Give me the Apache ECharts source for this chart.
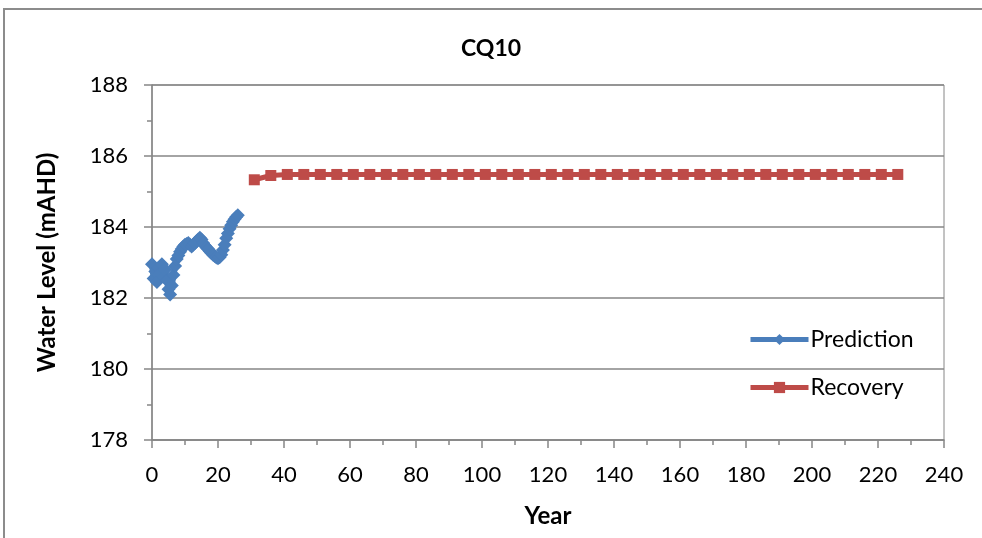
<!DOCTYPE html>
<html>
<head>
<meta charset="utf-8">
<script src="https://cdn.jsdelivr.net/npm/echarts@6/dist/echarts.min.js"></script>
<style>
html,body{margin:0;padding:0;background:#fff;}
#chart{width:982px;height:538px;}
</style>
</head>
<body>
<div id="chart"></div>
<script>
var title = "CQ10";
var xAxisName = "Year";
var yAxisName = "Water Level (mAHD)";
var predYears = [0,0.5,1,1.5,2,2.5,3,3.5,4,4.5,5,5.5,6,6.5,7,7.5,8,8.5,9,9.5,10,10.5,11,11.5,12,12.5,13,13.5,14,14.5,15,15.5,16,16.5,17,17.5,18,18.5,19,19.5,20,20.5,21,21.5,22,22.5,23,23.5,24,24.5,25,25.5,26];
var predLevels = [182.95,182.55,182.75,182.45,182.85,182.7,182.95,182.6,182.8,182.5,182.25,182.1,182.35,182.65,182.9,183.1,183.2,183.3,183.38,183.45,183.5,183.52,183.55,183.5,183.45,183.5,183.55,183.6,183.65,183.7,183.65,183.55,183.48,183.42,183.38,183.32,183.27,183.22,183.18,183.14,183.12,183.15,183.22,183.35,183.5,183.68,183.82,183.95,184.05,184.15,184.22,184.28,184.33];
var recYears = [31,36,41,46,51,56,61,66,71,76,81,86,91,96,101,106,111,116,121,126,131,136,141,146,151,156,161,166,171,176,181,186,191,196,201,206,211,216,221,226];
var recLevels = [185.33,185.45,185.48,185.48,185.48,185.48,185.48,185.48,185.48,185.48,185.48,185.48,185.48,185.48,185.48,185.48,185.48,185.48,185.48,185.48,185.48,185.48,185.48,185.48,185.48,185.48,185.48,185.48,185.48,185.48,185.48,185.48,185.48,185.48,185.48,185.48,185.48,185.48,185.48,185.48];

function zip(a,b){var r=[];for(var i=0;i<a.length;i++){r.push([a[i],b[i]]);}return r;}

var FONT = "Lato";
var chart = echarts.init(document.getElementById('chart'), null, {renderer:'canvas'});
chart.setOption({
  animation:false,
  backgroundColor:'#fff',
  textStyle:{fontFamily:FONT},
  title:{text:title,left:'center',top:32,textStyle:{fontFamily:FONT,fontSize:23,fontWeight:'bold',color:'#000'}},
  graphic:[{type:'rect',shape:{x:4,y:9,width:1100,height:700},style:{fill:'none',stroke:'#8c8c8c',lineWidth:2},silent:true,z:-1}],
  grid:{left:152,right:38,top:85,bottom:98,show:true,borderColor:'#868686',borderWidth:1,backgroundColor:'transparent'},
  legend:{
    orient:'vertical',left:743,top:323,itemGap:25,itemWidth:58,itemHeight:14,
    lineStyle:{width:5},
    textStyle:{fontFamily:FONT,fontSize:23,color:'#000',padding:[0,0,0,-3]},
    data:['Prediction','Recovery']
  },
  xAxis:{
    type:'value',min:0,max:240,interval:20,
    name:xAxisName,nameLocation:'middle',nameGap:64,
    nameTextStyle:{fontFamily:FONT,fontSize:24,fontWeight:'bold',color:'#000'},
    axisLine:{show:true,lineStyle:{color:'#868686',width:1.5}},
    axisTick:{show:true,inside:false,length:8,lineStyle:{color:'#868686',width:1.5}},
    minorTick:{show:true,splitNumber:2,length:5,lineStyle:{color:'#868686',width:1.5}},
    axisLabel:{fontFamily:FONT,fontSize:22,color:'#000',margin:24},
    splitLine:{show:false}
  },
  yAxis:{
    type:'value',min:178,max:188,interval:2,
    name:yAxisName,nameLocation:'middle',nameGap:93,nameRotate:90,
    nameTextStyle:{fontFamily:FONT,fontSize:24,fontWeight:'bold',color:'#000'},
    axisLine:{show:true,lineStyle:{color:'#868686',width:1.5}},
    axisTick:{show:true,inside:false,length:8,lineStyle:{color:'#868686',width:1.5}},
    minorTick:{show:true,splitNumber:2,length:5,lineStyle:{color:'#868686',width:1.5}},
    axisLabel:{fontFamily:FONT,fontSize:22,color:'#000',margin:24},
    splitLine:{show:true,lineStyle:{color:'#868686',width:1.5}}
  },
  series:[
    {name:'Prediction',type:'line',data:zip(predYears,predLevels),
     symbol:'diamond',symbolSize:14,showSymbol:true,
     lineStyle:{color:'#4A7EBB',width:6},itemStyle:{color:'#4A7EBB'},z:3},
    {name:'Recovery',type:'line',data:zip(recYears,recLevels),
     symbol:'rect',symbolSize:11,showSymbol:true,
     lineStyle:{color:'#BE4B48',width:5},itemStyle:{color:'#BE4B48'},z:2}
  ]
});
</script>
</body>
</html>
